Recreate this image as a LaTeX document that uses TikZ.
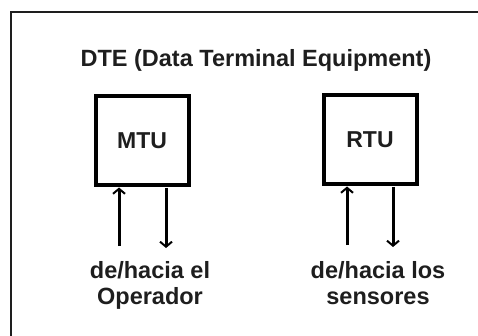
\documentclass[tikz,border=0pt]{standalone}
\usepackage{fontspec}
\setmainfont{Liberation Sans}
\usepackage{xcolor}
\usetikzlibrary{positioning, arrows.meta}
\definecolor{inkgray}{HTML}{1E1E1E}

\tikzset{
  unitbox/.style={draw=black, line width=4pt, minimum width=93pt, minimum height=89pt,
    inner sep=0pt, font=\bfseries\fontsize{23}{26}\selectfont, text=inkgray},
  flow/.style={line width=3pt, -{Straight Barb[length=5pt, width=12pt, line width=2pt]}},
  caption/.style={font=\bfseries\fontsize{23.5}{26}\selectfont, text=inkgray, align=center}
}

\begin{document}
\begin{tikzpicture}[x=1pt, y=-1pt]
  \useasboundingbox (0,0) rectangle (478,336);
  % outer frame
  \draw[line width=1.2pt, inkgray] (11,336) -- (11,12) -- (478,12);

  \node[font=\bfseries\fontsize{23.5}{26}\selectfont, text=inkgray] (title) at (256,60)
    {DTE (Data Terminal Equipment)};

  \node[unitbox] (mtu) at (142,141) {MTU};
  \node[unitbox] (rtu) at (370,140) {RTU};

  \coordinate (mtuup) at (119,246);
  \coordinate (mtudown) at (166,188);
  \coordinate (rtuup) at (347,245);
  \coordinate (rtudown) at (393,187);

  \draw[flow] (mtuup) -- (mtuup |- mtu.south);
  \draw[flow] (mtudown) -- ++(0,60);
  \draw[flow] (rtuup) -- (rtuup |- rtu.south);
  \draw[flow] (rtudown) -- ++(0,60);

  \node[caption] (oper) at (150,285) {de/hacia el\\Operador};
  \node[caption] (sens) at (378,283) {de/hacia los\\sensores};
\end{tikzpicture}
\end{document}
